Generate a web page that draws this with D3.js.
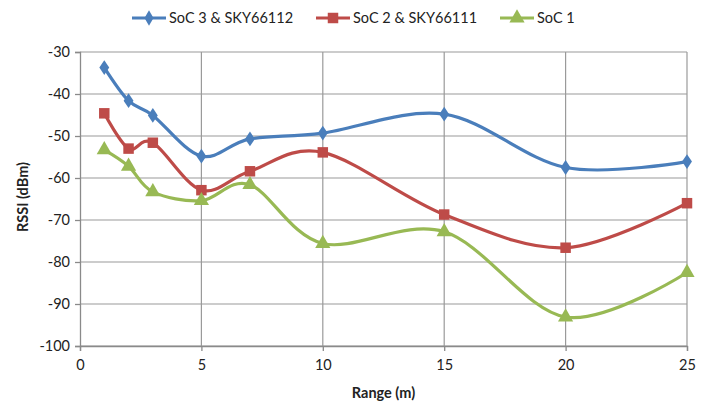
<!DOCTYPE html>
<html><head><meta charset="utf-8">
<script src="https://cdn.jsdelivr.net/npm/d3@7"></script>
<style>body{margin:0;background:#fff}svg{display:block;font-family:Lato,"Open Sans",sans-serif}</style>
</head><body><svg id="c" width="711" height="402"></svg>
<script>
const ranges = [1, 2, 3, 5, 7, 10, 15, 20, 25];
const soc3 = [-33.7, -41.6, -45.1, -54.8, -50.7, -49.3, -44.8, -57.5, -56.1];
const soc2 = [-44.6, -53.0, -51.6, -62.9, -58.4, -53.9, -68.7, -76.6, -66.0];
const soc1 = [-53.3, -57.2, -63.3, -65.4, -61.6, -75.6, -72.8, -93.1, -82.5];
const seriesNames = ["SoC 3 & SKY66112", "SoC 2 & SKY66111", "SoC 1"];
const xTicks = [0, 5, 10, 15, 20, 25];
const yTicks = [-30, -40, -50, -60, -70, -80, -90, -100];

const colors = ["#4A7EBB", "#BE4B48", "#98B954"];
const symbols = [d3.symbolDiamond, d3.symbolSquare, d3.symbolTriangle];
const symSizes = [70, 110, 100];
const allSeries = [soc3, soc2, soc1];
const fs = "14.5px";

const svg = d3.select("#c");
const x = d3.scaleLinear().domain([0, 25]).range([80, 687]);
const y = d3.scaleLinear().domain([-100, -30]).range([346, 52]);
const grid = "#9a9a9a";

// gridlines
svg.append("g").selectAll("line").data(yTicks).join("line")
  .attr("x1", x(0)).attr("x2", x(25)).attr("y1", d => y(d)).attr("y2", d => y(d))
  .attr("stroke", grid).attr("stroke-width", 1.2);
svg.append("g").selectAll("line").data(xTicks.slice(1)).join("line")
  .attr("y1", y(-30)).attr("y2", y(-100)).attr("x1", d => x(d)).attr("x2", d => x(d))
  .attr("stroke", grid).attr("stroke-width", 1.2);

// axes
const yAxis = svg.append("g").attr("transform", `translate(${x(0)},0)`)
  .call(d3.axisLeft(y).tickValues(yTicks).tickFormat(d => String(d)).tickSize(5).tickPadding(5));
const xAxis = svg.append("g").attr("transform", `translate(0,${y(-100)})`)
  .call(d3.axisBottom(x).tickValues(xTicks).tickFormat(d => String(d)).tickSize(5).tickPadding(9));
[xAxis, yAxis].forEach(a => {
  a.select(".domain").attr("stroke", "#8a8a8a").attr("stroke-width", 1.3);
  a.selectAll(".tick line").attr("stroke", "#8a8a8a").attr("stroke-width", 1.3);
  a.selectAll(".tick text").attr("fill", "#222").style("font-size", fs).style("font-family", "Lato, sans-serif");
});

// lines
const line = d3.line().x((d, i) => x(ranges[i])).y(d => y(d)).curve(d3.curveCardinal.tension(0));
allSeries.forEach((s, k) => {
  svg.append("path").datum(s).attr("d", line).attr("fill", "none")
    .attr("stroke", colors[k]).attr("stroke-width", 3.2).attr("stroke-linejoin", "round");
});
allSeries.forEach((s, k) => {
  svg.append("g").selectAll("path").data(s).join("path")
    .attr("transform", (d, i) => `translate(${x(ranges[i])},${y(d)})` + (k === 0 ? " scale(1.1,0.95)" : ""))
    .attr("d", d3.symbol().type(symbols[k]).size(symSizes[k]))
    .attr("fill", colors[k]);
});

// axis titles
svg.append("text").attr("x", x(12.5)).attr("y", 398).attr("text-anchor", "middle")
  .style("font-size", fs).style("font-weight", "bold").attr("fill", "#222").text("Range (m)");
svg.append("text").attr("transform", "translate(28,197) rotate(-90)").attr("text-anchor", "middle")
  .style("font-size", fs).style("font-weight", "bold").attr("fill", "#222").text("RSSI (dBm)");

// legend
const legX = [132, 316, 500];
seriesNames.forEach((n, k) => {
  const g = svg.append("g").attr("transform", `translate(${legX[k]},18)`);
  g.append("line").attr("x1", 0).attr("x2", 34).attr("stroke", colors[k]).attr("stroke-width", 3.2);
  g.append("path").attr("transform", "translate(17,0)").attr("d", d3.symbol().type(symbols[k]).size(symSizes[k])).attr("fill", colors[k]);
  g.append("text").attr("x", 37).attr("y", 5).style("font-size", fs).attr("fill", "#222").text(n);
});
</script></body></html>
